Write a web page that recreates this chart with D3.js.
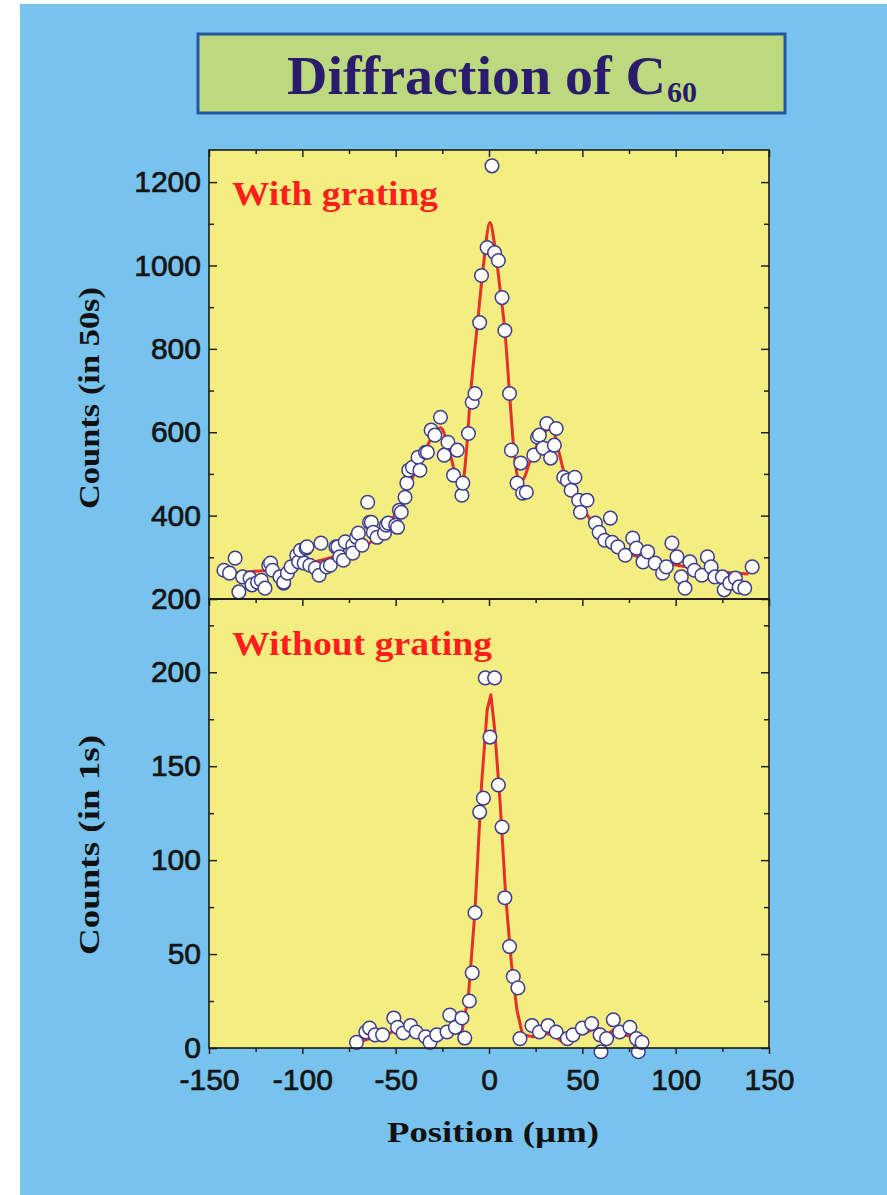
<!DOCTYPE html>
<html>
<head>
<meta charset="utf-8">
<script src="https://cdn.jsdelivr.net/npm/d3@7"></script>
<style>
  html, body { margin: 0; padding: 0; background: #fff; }
  svg { display: block; }
</style>
</head>
<body>
<svg id="chart" width="887" height="1195"></svg>
<script>
// Upper panel: with grating (counts in 50 s)
const gratingX = [-142, -139, -136, -134, -132, -128, -127, -124, -122, -120, -118, -117, -116, -112, -110, -110, -108, -106, -103, -102, -101, -99, -98, -97.5, -96, -93, -91, -90, -87, -85, -82, -81, -80, -78, -77, -73, -73, -71, -70, -68, -65, -64, -63, -62, -60, -56, -55, -54, -50, -49, -48, -47, -45, -44, -43, -41, -38, -37, -34, -33, -31, -29, -26, -24, -22, -19, -17, -14.5, -14, -11, -9, -7.5, -5, -4, -1, 1.6, 3, 5, 7, 8.5, 11, 12, 15, 17, 18, 20, 24, 26, 27, 29, 31, 33, 35, 36, 40, 42, 44, 46, 48, 49, 52.5, 57, 59, 62, 65, 66, 69, 73, 77, 79, 82.5, 85, 89, 93, 95, 98, 100.7, 103, 105, 107.6, 110, 114, 117, 119, 121, 125, 126, 129, 132, 134, 137, 141];
const gratingY = [269, 262, 298, 217, 253, 250, 234, 240, 245, 226, 281, 286, 269, 253, 238, 240, 262, 277, 305, 289, 317, 286, 322, 325, 281, 274, 257, 334, 277, 281, 325, 325, 301, 293, 337, 329, 310, 348, 358, 329, 432, 384, 384, 360, 348, 358, 377, 382, 377, 372, 413, 408, 444, 478, 509, 516, 540, 509, 552, 552, 605, 593, 636, 545, 576, 497, 557, 449, 478, 597, 672, 693, 863, 976, 1043, 1239, 1031, 1012, 923, 844, 693, 557, 478, 526, 454, 456, 545, 588, 593, 562, 621, 538, 569, 609, 492, 485, 461, 492, 437, 408, 437, 382, 360, 341, 394, 336, 325, 305, 346, 322, 289, 313, 286, 262, 277, 334, 301, 253, 226, 289, 269, 257, 301, 277, 253, 253, 222, 238, 250, 229, 226, 277];
const gratingFitX = [-140, -130, -120, -110, -100, -90, -80, -70, -63, -56, -50, -44, -40, -35, -30, -26, -22, -18, -14, -12, -10, -6, -3, 0.5, 3, 6, 8.5, 11, 13, 15.5, 17.7, 22, 27, 31, 34, 37, 41, 45, 50, 56, 62, 70, 80, 90, 101, 112, 125, 139];
const gratingFitY = [262, 265, 268, 268, 280, 293, 305, 320, 337, 365, 405, 461, 500, 545, 595, 611, 570, 502, 485, 560, 684, 868, 1000, 1103, 1050, 940, 844, 693, 574, 492, 485, 530, 580, 605, 609, 560, 492, 460, 420, 380, 350, 320, 301, 290, 281, 272, 265, 260];

// Lower panel: without grating (counts in 1 s)
const directX = [-71, -66, -64, -61, -57, -51, -49, -46, -42, -39, -34, -31.6, -28, -22.5, -21, -18, -14.5, -13, -10.5, -9, -7.5, -5, -3, -2, 0.5, 3, 5, 7, 8.5, 11, 13, 15.5, 16.6, 23, 27, 31.6, 36, 42, 45, 50, 55, 59.5, 60, 63, 66.6, 70, 75.5, 79, 80, 82];
const directY = [3, 8.5, 10.6, 7, 7, 16, 11, 8, 12, 8.5, 6, 3, 7, 8.5, 17.5, 11, 16, 5.3, 25, 40, 72, 125.6, 133, 197, 165.5, 197, 140, 117.6, 80, 54, 38, 32, 5, 12, 8.5, 12, 8.5, 5, 7, 10.6, 13, 7, -2, 5, 15, 8.5, 11, 5, -2, 3];
const directFitX = [-70, -64, -57, -53, -49, -44, -40.7, -36, -31.6, -26, -22.5, -18, -14.5, -11, -7.5, -4, -1, 1, 3, 6, 9, 12, 15, 18, 23.6, 29, 34, 39.6, 45, 52.5, 58, 61, 66.6, 72, 77, 81];
const directFitY = [3, 5, 5, 8, 10.6, 8.5, 10.6, 5, 6, 8.5, 11, 10.6, 8.5, 28, 73, 140, 180, 188, 170, 130, 80, 45, 20, 7, 6, 8, 7, 3, 7, 8.5, 11, 5, 9.6, 7, 6, 3];

// Axis ticks
const xMajor = [-150, -100, -50, 0, 50, 100, 150];
const xMinor = [-125, -75, -25, 25, 75, 125];
const topMajor = [200, 400, 600, 800, 1000, 1200];
const topMinor = [300, 500, 700, 900, 1100];
const botMajor = [0, 50, 100, 150, 200];
const botMinor = [25, 75, 125, 175, 225];

const svg = d3.select("#chart");
const serif = "'Liberation Serif', 'Times New Roman', serif";
const sans = "'Liberation Sans', Arial, sans-serif";

// backdrop
svg.append("rect")
  .attr("x", 20).attr("y", 4)
  .attr("width", 867).attr("height", 1191)
  .attr("fill", "#77c3ee");

// title box
svg.append("rect")
  .attr("x", 198).attr("y", 34)
  .attr("width", 587).attr("height", 79)
  .attr("fill", "#bcd97d")
  .attr("stroke", "#2556a6")
  .attr("stroke-width", 3);

svg.append("text")
  .attr("x", 287).attr("y", 94)
  .attr("font-family", serif).attr("font-weight", "bold")
  .attr("font-size", 54).attr("fill", "#2a1b6c")
  .attr("textLength", 379).attr("lengthAdjust", "spacingAndGlyphs")
  .text("Diffraction of C");
svg.append("text")
  .attr("x", 667).attr("y", 102)
  .attr("font-family", serif).attr("font-weight", "bold")
  .attr("font-size", 30).attr("fill", "#2a1b6c")
  .attr("textLength", 30).attr("lengthAdjust", "spacingAndGlyphs")
  .text("60");

const x = d3.scaleLinear().domain([-150, 150]).range([209, 769]);
const yTop = d3.scaleLinear().domain([200, 1277]).range([599, 150]);
const yBot = d3.scaleLinear().domain([0, 239]).range([1048, 599]);

// plot area
svg.append("rect")
  .attr("x", x(-150)).attr("y", yTop.range()[1])
  .attr("width", x(150) - x(-150)).attr("height", yBot.range()[0] - yTop.range()[1])
  .attr("fill", "#f3ee7f");

function styleAxis(g) {
  g.select(".domain").remove();
  g.selectAll("line").attr("stroke", "#222").attr("stroke-width", 1.5);
  g.selectAll("text")
    .attr("font-family", sans)
    .attr("font-size", 30)
    .attr("fill", "#151515")
    .attr("stroke", "#151515")
    .attr("stroke-width", 0.7);
}

function drawPanel(y, major, minor, xs, ys, fx, fy, withXLabels, curve) {
  const top = y.range()[1];
  const bottom = y.range()[0];

  // y ticks, left (inward, labelled) and right (inward)
  svg.append("g").attr("transform", `translate(${x(-150)},0)`)
    .call(d3.axisLeft(y).tickValues(major).tickSizeInner(-8).tickSizeOuter(0).tickPadding(8).tickFormat(d3.format("d")))
    .call(styleAxis);
  svg.append("g").attr("transform", `translate(${x(-150)},0)`)
    .call(d3.axisLeft(y).tickValues(minor).tickSizeInner(-5).tickSizeOuter(0).tickFormat(""))
    .call(styleAxis);
  svg.append("g").attr("transform", `translate(${x(150)},0)`)
    .call(d3.axisRight(y).tickValues(major).tickSizeInner(-8).tickSizeOuter(0).tickFormat(""))
    .call(styleAxis);
  svg.append("g").attr("transform", `translate(${x(150)},0)`)
    .call(d3.axisRight(y).tickValues(minor).tickSizeInner(-5).tickSizeOuter(0).tickFormat(""))
    .call(styleAxis);

  // x ticks on top edge (inward)
  svg.append("g").attr("transform", `translate(0,${top})`)
    .call(d3.axisTop(x).tickValues(xMajor).tickSizeInner(-7).tickSizeOuter(0).tickFormat(""))
    .call(styleAxis);
  svg.append("g").attr("transform", `translate(0,${top})`)
    .call(d3.axisTop(x).tickValues(xMinor).tickSizeInner(-4).tickSizeOuter(0).tickFormat(""))
    .call(styleAxis);

  if (withXLabels) {
    svg.append("g").attr("transform", `translate(0,${bottom})`)
      .call(d3.axisBottom(x).tickValues(xMajor).tickSizeInner(6).tickSizeOuter(0).tickPadding(15).tickFormat(d => String(d)))
      .call(styleAxis);
    svg.append("g").attr("transform", `translate(0,${bottom})`)
      .call(d3.axisBottom(x).tickValues(xMinor).tickSizeInner(4).tickSizeOuter(0).tickFormat(""))
      .call(styleAxis);
  }

  // fitted curve
  svg.append("path")
    .datum(d3.zip(fx, fy))
    .attr("fill", "none")
    .attr("stroke", "#e5302b")
    .attr("stroke-width", 3)
    .attr("stroke-linejoin", "round")
    .attr("d", d3.line().x(d => x(d[0])).y(d => y(d[1])).curve(curve));

  // measured points
  svg.append("g").selectAll("circle")
    .data(d3.zip(xs, ys))
    .join("circle")
    .attr("cx", d => x(d[0]))
    .attr("cy", d => y(d[1]))
    .attr("r", 6.8)
    .attr("fill", "#ffffff")
    .attr("stroke", "#3c3c8e")
    .attr("stroke-width", 1.5);

  // frame
  svg.append("rect")
    .attr("x", x(-150)).attr("y", top)
    .attr("width", x(150) - x(-150)).attr("height", bottom - top)
    .attr("fill", "none")
    .attr("stroke", "#1a1a1a")
    .attr("stroke-width", 1.6);
}

drawPanel(yTop, topMajor, topMinor, gratingX, gratingY, gratingFitX, gratingFitY, false, d3.curveMonotoneX);
drawPanel(yBot, botMajor, botMinor, directX, directY, directFitX, directFitY, true, d3.curveLinear);

// panel labels
svg.append("text")
  .attr("x", 232).attr("y", 205)
  .attr("font-family", serif).attr("font-weight", "bold")
  .attr("font-size", 33).attr("fill", "#ff1d1d")
  .attr("textLength", 206).attr("lengthAdjust", "spacingAndGlyphs")
  .text("With grating");
svg.append("text")
  .attr("x", 232).attr("y", 655)
  .attr("font-family", serif).attr("font-weight", "bold")
  .attr("font-size", 33).attr("fill", "#ff1d1d")
  .attr("textLength", 260).attr("lengthAdjust", "spacingAndGlyphs")
  .text("Without grating");

// axis titles
svg.append("text")
  .attr("transform", "translate(99,398) rotate(-90)")
  .attr("text-anchor", "middle")
  .attr("font-family", serif).attr("font-weight", "bold")
  .attr("font-size", 29).attr("fill", "#111")
  .attr("textLength", 222).attr("lengthAdjust", "spacingAndGlyphs")
  .text("Counts (in 50s)");
svg.append("text")
  .attr("transform", "translate(99,845) rotate(-90)")
  .attr("text-anchor", "middle")
  .attr("font-family", serif).attr("font-weight", "bold")
  .attr("font-size", 29).attr("fill", "#111")
  .attr("textLength", 220).attr("lengthAdjust", "spacingAndGlyphs")
  .text("Counts (in 1s)");
svg.append("text")
  .attr("x", 493).attr("y", 1142)
  .attr("text-anchor", "middle")
  .attr("font-family", serif).attr("font-weight", "bold")
  .attr("font-size", 30).attr("fill", "#111")
  .attr("textLength", 212).attr("lengthAdjust", "spacingAndGlyphs")
  .text("Position (\u00b5m)");
</script>
</body>
</html>
